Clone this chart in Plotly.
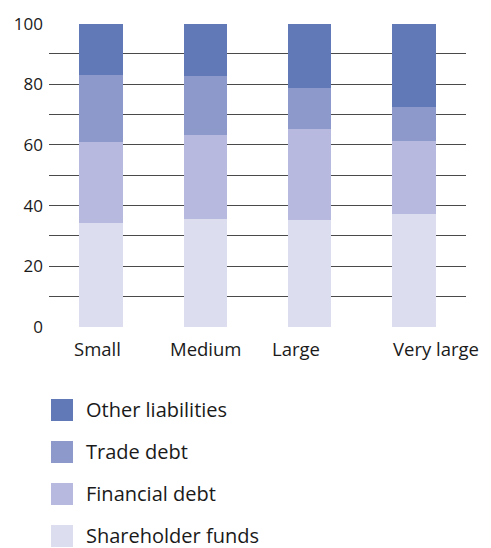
import plotly.graph_objects as go

# Balance-sheet structure by firm size (% of total liabilities)
categories = ["Small", "Medium", "Large", "Very large"]
shareholder_funds = [34.2, 35.5, 35.2, 37.2]
financial_debt = [26.7, 27.7, 29.9, 24.0]
trade_debt = [22.3, 19.4, 13.8, 11.2]
other_liabilities = [16.8, 17.4, 21.1, 27.6]

series_names = ["Shareholder funds", "Financial debt", "Trade debt", "Other liabilities"]
series_values = [shareholder_funds, financial_debt, trade_debt, other_liabilities]
series_colors = ["#dcdef0", "#b7bade", "#8e99cb", "#6279b8"]

y_ticks = [0, 20, 40, 60, 80, 100]

FONT = "Open Sans, Lato, sans-serif"
TEXT_COLOR = "#1a1a1a"

# Plot-area geometry in pixels (used to place the custom legend)
W, H = 491, 548
M_L, M_R, M_T, M_B = 49, 25, 23, 221
PLOT_W = W - M_L - M_R
PLOT_H = H - M_T - M_B


def px_to_paper_x(px):
    return (px - M_L) / PLOT_W


def px_to_paper_y(py):
    return (H - M_B - py) / PLOT_H


fig = go.Figure()
for name, vals, col in zip(series_names, series_values, series_colors):
    fig.add_trace(go.Bar(
        x=categories, y=vals, name=name,
        marker=dict(color=col, line=dict(width=0)),
        showlegend=False,
    ))

# Category labels sit slightly off-centre under each bar
label_shifts = [-4, 1, -14, 22]
for cat, dx in zip(categories, label_shifts):
    fig.add_annotation(
        x=cat, xref="x", y=0, yref="paper", yanchor="top",
        yshift=-7, xshift=dx, text=cat, showarrow=False,
        font=dict(family=FONT, size=18.5, color=TEXT_COLOR),
    )

# Legend drawn as large square swatches, top entry = top stack segment
legend_top = 410
legend_step = 42
swatch = 22
for i, (name, col) in enumerate(zip(reversed(series_names), reversed(series_colors))):
    cy = legend_top + i * legend_step
    fig.add_shape(
        type="rect", xref="paper", yref="paper",
        x0=px_to_paper_x(51), x1=px_to_paper_x(51 + swatch),
        y0=px_to_paper_y(cy + swatch / 2), y1=px_to_paper_y(cy - swatch / 2),
        fillcolor=col, line=dict(width=0),
    )
    fig.add_annotation(
        xref="paper", yref="paper",
        x=px_to_paper_x(84), y=px_to_paper_y(cy - 1), xanchor="left", yanchor="middle",
        text=name, showarrow=False,
        font=dict(family=FONT, size=20, color=TEXT_COLOR),
    )

fig.update_layout(
    width=W, height=H,
    margin=dict(l=M_L, r=M_R, t=M_T, b=M_B),
    barmode="stack", bargap=0.585,
    plot_bgcolor="white", paper_bgcolor="white",
    font=dict(family=FONT, size=17, color=TEXT_COLOR),
    xaxis=dict(range=[-0.5, 3.5], showticklabels=False, showgrid=False,
               zeroline=False, showline=False, ticks=""),
    yaxis=dict(
        range=[0, 100.2], tickvals=y_ticks, ticktext=[str(v) for v in y_ticks],
        showgrid=True, gridcolor="#4a4a4a", gridwidth=1,
        minor=dict(dtick=10, showgrid=True, gridcolor="#4a4a4a", gridwidth=1),
        zeroline=False, showline=False, ticks="", ticklabelstandoff=5,
        tickfont=dict(family=FONT, size=17, color=TEXT_COLOR),
    ),
)

fig.write_html("out.html")
